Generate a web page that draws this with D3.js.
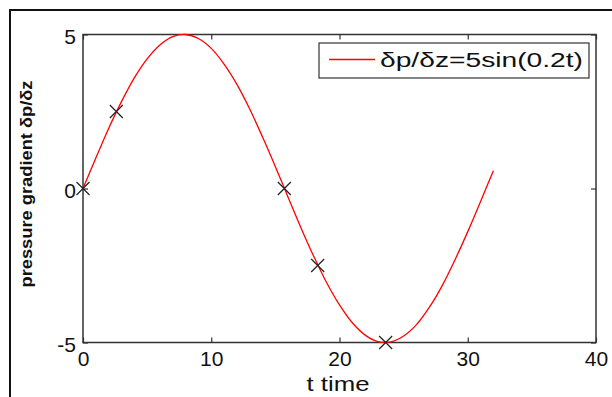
<!DOCTYPE html>
<html>
<head>
<meta charset="utf-8">
<script src="https://cdn.jsdelivr.net/npm/d3@7"></script>
<style>
  html, body { margin: 0; padding: 0; background: #fff; }
  svg { display: block; }
  text { font-family: "Liberation Sans", Arial, sans-serif; fill: #111; }
</style>
</head>
<body>
<svg id="chart"></svg>
<script>
// values
var tValues = [0, 1, 2, 3, 4, 5, 6, 7, 8, 9, 10, 11, 12, 13, 14, 15, 16,
               17, 18, 19, 20, 21, 22, 23, 24, 25, 26, 27, 28, 29, 30, 31, 32];
var pValues = [0, 0.99, 1.95, 2.82, 3.59, 4.21, 4.66, 4.93, 5.0, 4.87, 4.55, 4.04, 3.38, 2.58, 1.67, 0.71, -0.29,
               -1.28, -2.21, -3.06, -3.78, -4.36, -4.76, -4.97, -4.98, -4.79, -4.42, -3.86, -3.16, -2.32, -1.40, -0.42, 0.58];
var markT = [0, 2.6, 15.7, 18.3, 23.6];
var markP = [0, 2.5, 0, -2.5, -5];
var xTicks = [0, 10, 20, 30, 40];
var yTicks = [-5, 0, 5];
var legendLabel = "δp/δz=5sin(0.2t)";
var xLabel = "t time";
var yLabel = "pressure gradient δp/δz";

var width = 612, height = 397;
var plotL = 83, plotR = 596, plotT = 34.5, plotB = 342.5;

var svg = d3.select("#chart").attr("width", width).attr("height", height);

// outer frame (cut by the right and bottom edges)
svg.append("rect")
  .attr("x", 10).attr("y", 10)
  .attr("width", 620).attr("height", 400)
  .attr("fill", "none").attr("stroke", "#111").attr("stroke-width", 2);

var x = d3.scaleLinear().domain([0, 40]).range([plotL, plotR]);
var y = d3.scaleLinear().domain([-5, 5]).range([plotB, plotT]);

// plain hyphen minus like matlab
var fmt = function(d) { return String(d); };

var axisColor = "#333";
function styleAxis(g) {
  g.select(".domain").remove();
  g.selectAll(".tick line").attr("stroke", axisColor).attr("stroke-width", 1.2);
}
svg.append("g").attr("transform", "translate(0," + plotB + ")")
  .call(d3.axisBottom(x).tickValues(xTicks).tickSizeInner(-5).tickSizeOuter(0).tickPadding(9).tickFormat(fmt))
  .call(styleAxis)
  .selectAll("text").attr("font-size", 21).attr("fill", "#111").attr("font-family", "Liberation Sans, Arial, sans-serif");
svg.append("g").attr("transform", "translate(0," + plotT + ")")
  .call(d3.axisTop(x).tickValues(xTicks).tickSizeInner(-5).tickSizeOuter(0).tickFormat(""))
  .call(styleAxis);
svg.append("g").attr("transform", "translate(" + plotL + ",0)")
  .call(d3.axisLeft(y).tickValues(yTicks).tickSizeInner(-5).tickSizeOuter(0).tickPadding(7).tickFormat(fmt))
  .call(styleAxis)
  .selectAll("text").attr("font-size", 21).attr("fill", "#111").attr("dy", "0.45em").attr("font-family", "Liberation Sans, Arial, sans-serif");
svg.append("g").attr("transform", "translate(" + plotR + ",0)")
  .call(d3.axisRight(y).tickValues(yTicks).tickSizeInner(-5).tickSizeOuter(0).tickFormat(""))
  .call(styleAxis);

svg.append("rect")
  .attr("x", plotL).attr("y", plotT)
  .attr("width", plotR - plotL).attr("height", plotB - plotT)
  .attr("fill", "none").attr("stroke", axisColor).attr("stroke-width", 1.5);

// curve
var data = tValues.map(function(t, i) { return { t: t, p: pValues[i] }; });
var line = d3.line()
  .x(function(d) { return x(d.t); })
  .y(function(d) { return y(d.p); })
  .curve(d3.curveCatmullRom);

svg.append("path")
  .datum(data)
  .attr("fill", "none")
  .attr("stroke", "#ff0000")
  .attr("stroke-width", 1.3)
  .attr("d", line);

// x markers
var s = 6.5;
var marks = markT.map(function(t, i) { return { t: t, p: markP[i] }; });
svg.selectAll(".mark")
  .data(marks)
  .enter().append("path")
  .attr("class", "mark")
  .attr("fill", "none")
  .attr("stroke", "#222")
  .attr("stroke-width", 1.2)
  .attr("d", function(d) {
    var cx = x(d.t), cy = y(d.p);
    return "M" + (cx - s) + "," + (cy - s) + "L" + (cx + s) + "," + (cy + s) +
           "M" + (cx - s) + "," + (cy + s) + "L" + (cx + s) + "," + (cy - s);
  });

// legend
var lg = svg.append("g");
lg.append("rect")
  .attr("x", 319).attr("y", 43).attr("width", 270).attr("height", 35)
  .attr("fill", "#fff").attr("stroke", "#333").attr("stroke-width", 1.2);
lg.append("line")
  .attr("x1", 329).attr("x2", 375).attr("y1", 59.5).attr("y2", 59.5)
  .attr("stroke", "#ff0000").attr("stroke-width", 1.3);
lg.append("text")
  .attr("x", 380).attr("y", 67)
  .attr("font-size", 20)
  .attr("textLength", 203).attr("lengthAdjust", "spacingAndGlyphs")
  .text(legendLabel);

// axis labels
svg.append("text")
  .attr("x", 338).attr("y", 391)
  .attr("text-anchor", "middle")
  .attr("font-size", 21)
  .attr("textLength", 63).attr("lengthAdjust", "spacingAndGlyphs")
  .text(xLabel);

svg.append("text")
  .attr("transform", "translate(32,184) rotate(-90)")
  .attr("text-anchor", "middle")
  .attr("font-size", 17)
  .attr("font-weight", "bold")
  .attr("textLength", 207).attr("lengthAdjust", "spacingAndGlyphs")
  .text(yLabel);
</script>
</body>
</html>
